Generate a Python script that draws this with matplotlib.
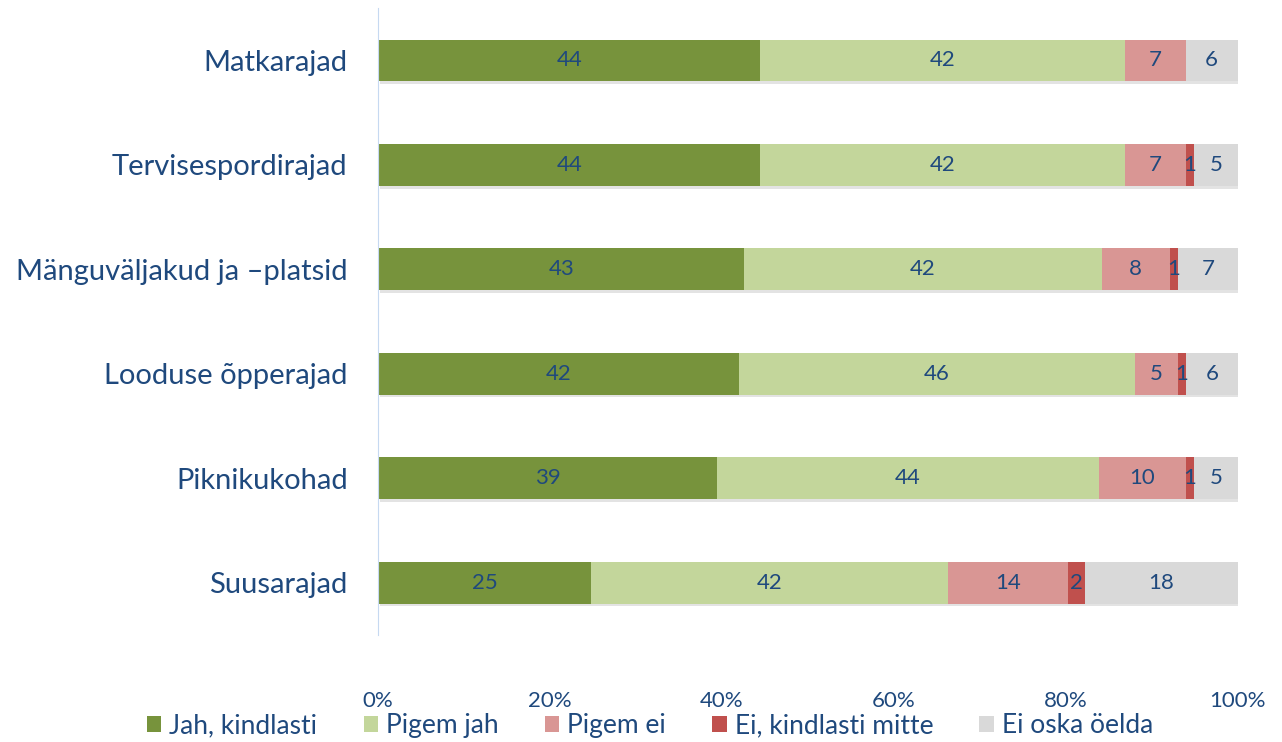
import matplotlib.pyplot as plt
import matplotlib.patheffects as pe
import numpy as np

categories = ["Matkarajad", "Tervisespordirajad", "Mänguväljakud ja –platsid",
              "Looduse õpperajad", "Piknikukohad", "Suusarajad"]
series_names = ["Jah, kindlasti", "Pigem jah", "Pigem ei", "Ei, kindlasti mitte", "Ei oska öelda"]
jah_kindlasti = [44, 44, 43, 42, 39, 25]
pigem_jah = [42, 42, 42, 46, 44, 42]
pigem_ei = [7, 7, 8, 5, 10, 14]
ei_kindlasti = [0, 1, 1, 1, 1, 2]
ei_oska = [6, 5, 7, 6, 5, 18]
colors = ["#77933C", "#C3D69B", "#D99694", "#C0504D", "#D9D9D9"]
text_color = "#1F497D"

plt.rcParams['font.family'] = ['Lato', 'DejaVu Sans']

data = np.array([jah_kindlasti, pigem_jah, pigem_ei, ei_kindlasti, ei_oska], dtype=float)
shares = data / data.sum(axis=0) * 100

fig = plt.figure(figsize=(12.82, 7.42), dpi=100)
ax = fig.add_axes([0.295, 0.1442, 0.6705, 0.8448])

y = np.arange(len(categories))
left = np.zeros(len(categories))
shadow = [pe.SimplePatchShadow(offset=(1, -2), alpha=0.15, shadow_rgbFace="#444444"), pe.Normal()]
for k in range(len(series_names)):
    bars = ax.barh(y, shares[k], left=left, height=0.4, color=colors[k],
                   label=series_names[k], path_effects=shadow)
    for i, b in enumerate(bars):
        if data[k, i] > 0:
            ax.text(left[i] + shares[k, i] / 2, y[i], f"{int(data[k, i])}",
                    ha="center", va="center", fontsize=16, color=text_color)
    left += shares[k]

ax.set_ylim(len(categories) - 0.5, -0.5)
ax.set_xlim(0, 100)
ax.set_yticks(y)
ax.set_yticklabels(categories, fontsize=21, color=text_color)
ax.set_xticks(np.arange(0, 101, 20))
ax.set_xticklabels([f"{v}%" for v in range(0, 101, 20)], fontsize=16, color=text_color)
ax.tick_params(axis="both", length=0)
ax.tick_params(axis="x", pad=40)
ax.tick_params(axis="y", pad=22)
for s in ["top", "right", "bottom"]:
    ax.spines[s].set_visible(False)
ax.spines["left"].set_color("#C6D9F1")

leg = fig.legend(loc="center", bbox_to_anchor=(0.507, 0.022), ncol=5, frameon=False,
                 fontsize=19, handlelength=0.55, handleheight=0.55, handletextpad=0.3,
                 columnspacing=1.75)
for t in leg.get_texts():
    t.set_color(text_color)
for h in leg.legend_handles:
    h.set_path_effects([])

fig.savefig("out.png", dpi=100)
